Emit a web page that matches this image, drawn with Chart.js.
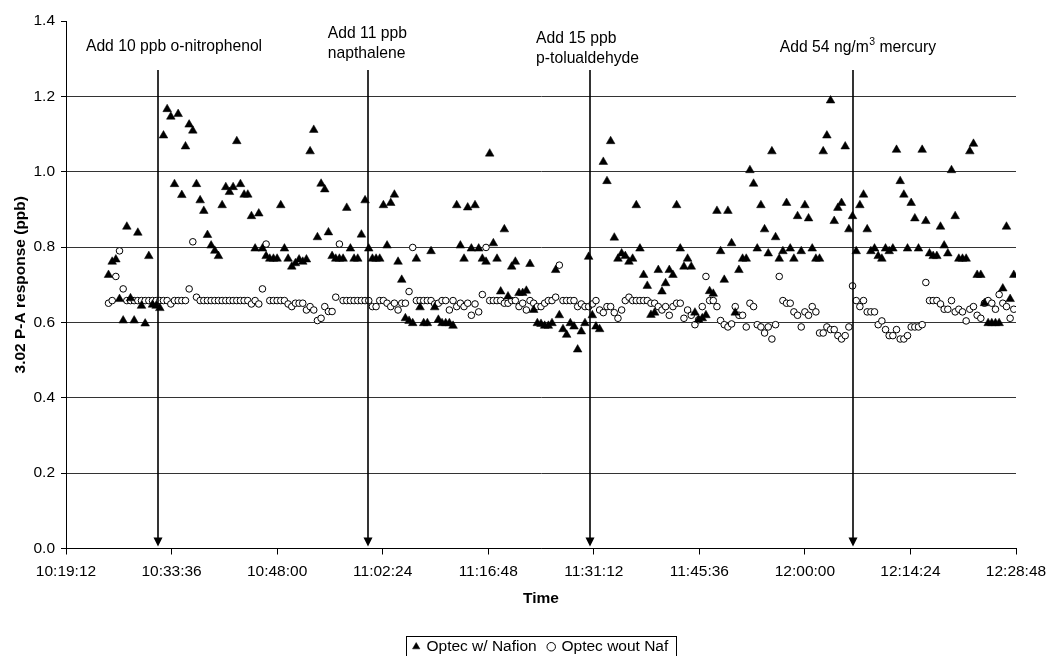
<!DOCTYPE html>
<html>
<head>
<meta charset="utf-8">
<script src="https://cdn.jsdelivr.net/npm/chart.js@4.4.1/dist/chart.umd.min.js"></script>
<style>
  html, body { margin: 0; padding: 0; background: #fff; }
</style>
</head>
<body>
<canvas id="chart" width="1047" height="656"></canvas>
<script>
// sample times (30 s logging interval)
const times = [
  '10:25:00','10:25:30','10:26:00','10:26:30','10:27:00','10:27:30','10:28:00','10:28:30','10:29:00','10:29:30',
  '10:30:00','10:30:30','10:31:00','10:31:30','10:32:00','10:32:30','10:33:00','10:33:30','10:34:00','10:34:30',
  '10:35:00','10:35:30','10:36:00','10:36:30','10:37:00','10:37:30','10:38:00','10:38:30','10:39:00','10:39:30',
  '10:40:00','10:40:30','10:41:00','10:41:30','10:42:00','10:42:30','10:43:00','10:43:30','10:44:00','10:44:30',
  '10:45:00','10:45:30','10:46:00','10:46:30','10:47:00','10:47:30','10:48:00','10:48:30','10:49:00','10:49:30',
  '10:50:00','10:50:30','10:51:00','10:51:30','10:52:00','10:52:30','10:53:00','10:53:30','10:54:00','10:54:30',
  '10:55:00','10:55:30','10:56:00','10:56:30','10:57:00','10:57:30','10:58:00','10:58:30','10:59:00','10:59:30',
  '11:00:00','11:00:30','11:01:00','11:01:30','11:02:00','11:02:30','11:03:00','11:03:30','11:04:00','11:04:30',
  '11:05:00','11:05:30','11:06:00','11:06:30','11:07:00','11:07:30','11:08:00','11:08:30','11:09:00','11:09:30',
  '11:10:00','11:10:30','11:11:00','11:11:30','11:12:00','11:12:30','11:13:00','11:13:30','11:14:00','11:14:30',
  '11:15:00','11:15:30','11:16:00','11:16:30','11:17:00','11:17:30','11:18:00','11:18:30','11:19:00','11:19:30',
  '11:20:00','11:20:30','11:21:00','11:21:30','11:22:00','11:22:30','11:23:00','11:23:30','11:24:00','11:24:30',
  '11:25:00','11:25:30','11:26:00','11:26:30','11:27:00','11:27:30','11:28:00','11:28:30','11:29:00','11:29:30',
  '11:30:00','11:30:30','11:31:00','11:31:30','11:32:00','11:32:30','11:33:00','11:33:30','11:34:00','11:34:30',
  '11:35:00','11:35:30','11:36:00','11:36:30','11:37:00','11:37:30','11:38:00','11:38:30','11:39:00','11:39:30',
  '11:40:00','11:40:30','11:41:00','11:41:30','11:42:00','11:42:30','11:43:00','11:43:30','11:44:00','11:44:30',
  '11:45:00','11:45:30','11:46:00','11:46:30','11:47:00','11:47:30','11:48:00','11:48:30','11:49:00','11:49:30',
  '11:50:00','11:50:30','11:51:00','11:51:30','11:52:00','11:52:30','11:53:00','11:53:30','11:54:00','11:54:30',
  '11:55:00','11:55:30','11:56:00','11:56:30','11:57:00','11:57:30','11:58:00','11:58:30','11:59:00','11:59:30',
  '12:00:00','12:00:30','12:01:00','12:01:30','12:02:00','12:02:30','12:03:00','12:03:30','12:04:00','12:04:30',
  '12:05:00','12:05:30','12:06:00','12:06:30','12:07:00','12:07:30','12:08:00','12:08:30','12:09:00','12:09:30',
  '12:10:00','12:10:30','12:11:00','12:11:30','12:12:00','12:12:30','12:13:00','12:13:30','12:14:00','12:14:30',
  '12:15:00','12:15:30','12:16:00','12:16:30','12:17:00','12:17:30','12:18:00','12:18:30','12:19:00','12:19:30',
  '12:20:00','12:20:30','12:21:00','12:21:30','12:22:00','12:22:30','12:23:00','12:23:30','12:24:00','12:24:30',
  '12:25:00','12:25:30','12:26:00','12:26:30','12:27:00','12:27:30','12:28:00','12:28:30'
];

// Optec w/ Nafion (ppb)
const withNafion = [
  0.726,0.761,0.767,0.662,0.605,0.854,0.664,0.605,0.838,0.644,
  0.597,0.776,0.647,0.644,0.638,1.096,1.166,1.146,0.967,1.153,
  0.938,1.067,1.125,1.109,0.967,0.924,0.896,0.832,0.804,0.790,
  0.776,0.911,0.959,0.946,0.959,1.081,0.967,0.939,0.939,0.882,
  0.796,0.889,0.796,0.776,0.769,0.769,0.769,0.911,0.796,0.769,
  0.748,0.757,0.767,0.761,0.767,1.054,1.111,0.826,0.968,0.953,
  0.839,0.776,0.769,0.769,0.769,0.904,0.796,0.769,0.769,0.833,
  0.924,0.796,0.769,0.769,0.769,0.911,0.804,0.917,0.939,0.761,
  0.713,0.611,0.604,0.598,0.769,0.640,0.598,0.598,0.789,0.640,
  0.607,0.598,0.598,0.598,0.591,0.911,0.804,0.769,0.905,0.796,
  0.911,0.796,0.769,0.761,1.048,0.810,0.769,0.682,0.847,0.669,
  0.748,0.761,0.678,0.678,0.684,0.755,0.633,0.598,0.596,0.591,
  0.591,0.598,0.739,0.619,0.582,0.567,0.598,0.589,0.528,0.576,
  0.598,0.774,0.619,0.589,0.582,1.026,0.975,1.081,0.825,0.769,
  0.783,0.776,0.761,0.769,0.911,0.796,0.726,0.697,0.620,0.626,
  0.739,0.682,0.704,0.739,0.726,0.911,0.796,0.748,0.769,0.748,
  0.626,0.607,0.611,0.619,0.683,0.676,0.896,0.789,0.713,0.896,
  0.810,0.626,0.739,0.769,0.769,1.004,0.968,0.796,0.911,0.847,
  0.783,1.054,0.826,0.769,0.789,0.917,0.796,0.769,0.882,0.789,
  0.911,0.876,0.796,0.769,0.769,1.054,1.096,1.189,0.869,0.904,
  0.917,1.067,0.847,0.882,0.789,0.911,0.939,0.847,0.789,0.796,
  0.776,0.769,0.796,0.789,0.796,1.058,0.975,0.939,0.796,0.917,
  0.876,0.796,1.058,0.869,0.783,0.776,0.776,0.854,0.804,0.783,
  1.004,0.882,0.769,0.769,0.769,1.054,1.074,0.726,0.726,0.651,
  0.598,0.598,0.598,0.598,0.690,0.854,0.662,0.726
];

// Optec wout Naf (ppb)
const withoutNafion = [
  0.651,0.658,0.722,0.790,0.689,0.658,0.658,0.658,0.658,0.658,
  0.658,0.658,0.658,0.658,0.658,0.658,0.658,0.649,0.658,0.658,
  0.658,0.658,0.689,0.814,0.667,0.658,0.658,0.658,0.658,0.658,
  0.658,0.658,0.658,0.658,0.658,0.658,0.658,0.658,0.658,0.649,
  0.658,0.649,0.689,0.808,0.658,0.658,0.658,0.658,0.658,0.649,
  0.642,0.651,0.651,0.651,0.633,0.642,0.633,0.605,0.611,0.642,
  0.629,0.629,0.667,0.808,0.658,0.658,0.658,0.658,0.658,0.658,
  0.658,0.658,0.642,0.642,0.658,0.658,0.651,0.642,0.651,0.633,
  0.651,0.651,0.682,0.799,0.658,0.658,0.658,0.658,0.658,0.649,
  0.651,0.658,0.658,0.633,0.658,0.642,0.651,0.642,0.651,0.619,
  0.649,0.628,0.674,0.799,0.658,0.658,0.658,0.658,0.651,0.651,
  0.658,0.658,0.642,0.651,0.633,0.658,0.651,0.642,0.642,0.651,
  0.658,0.658,0.667,0.752,0.658,0.658,0.658,0.658,0.642,0.649,
  0.642,0.642,0.649,0.658,0.633,0.626,0.642,0.642,0.626,0.611,
  0.633,0.658,0.667,0.658,0.658,0.658,0.658,0.658,0.651,0.651,
  0.642,0.633,0.642,0.619,0.642,0.651,0.651,0.611,0.633,0.619,
  0.594,0.607,0.642,0.722,0.658,0.658,0.642,0.605,0.594,0.588,
  0.596,0.642,0.619,0.619,0.588,0.651,0.642,0.594,0.588,0.572,
  0.588,0.556,0.594,0.722,0.658,0.651,0.651,0.628,0.619,0.588,
  0.628,0.619,0.642,0.628,0.572,0.572,0.588,0.581,0.581,0.565,
  0.556,0.565,0.588,0.697,0.658,0.642,0.658,0.628,0.628,0.628,
  0.594,0.604,0.581,0.565,0.565,0.581,0.556,0.556,0.565,0.588,
  0.588,0.588,0.594,0.706,0.658,0.658,0.658,0.649,0.635,0.635,
  0.658,0.628,0.635,0.628,0.604,0.635,0.642,0.619,0.611,0.651,
  0.658,0.651,0.635,0.674,0.651,0.642,0.611,0.635
];

const xTickLabels = ['10:19:12','10:33:36','10:48:00','11:02:24','11:16:48','11:31:12','11:45:36','12:00:00','12:14:24','12:28:48'];
const yTickValues = [0, 0.2, 0.4, 0.6, 0.8, 1.0, 1.2, 1.4];

// additions marked with arrows
const arrowTimes = ['10:31:45', '11:00:25', '11:30:40', '12:06:35'];
const arrowTop = 1.27;
const noteTimes = ['10:21:55', '10:54:55', '11:23:20', '11:56:35'];
const noteValues = [1.331, 1.366, 1.352, 1.329];
const noteLines = [
  ['Add 10 ppb o-nitrophenol'],
  ['Add 11 ppb', 'napthalene'],
  ['Add 15 ppb', 'p-tolualdehyde'],
  ['Add 54 ng/m³ mercury']
];

const FONT = "'Liberation Sans', Arial, Helvetica, sans-serif";

function toSec(t) {
  const p = t.split(':').map(Number);
  return p[0] * 3600 + p[1] * 60 + p[2];
}
function fmtTime(s) {
  const h = Math.floor(s / 3600), m = Math.floor((s % 3600) / 60), sec = Math.round(s % 60);
  return h + ':' + String(m).padStart(2, '0') + ':' + String(sec).padStart(2, '0');
}

function drawNote(ctx, text, x, y) {
  const parts = text.split('³');
  let cx = x;
  parts.forEach((part, i) => {
    ctx.font = '15.7px ' + FONT;
    ctx.fillText(part, cx, y);
    cx += ctx.measureText(part).width;
    if (i < parts.length - 1) {
      ctx.font = '10.5px ' + FONT;
      ctx.fillText('3', cx + 0.5, y - 6);
      cx += ctx.measureText('3').width + 0.5;
    }
  });
}

const markers = {
  id: 'markers',
  afterLayout(chart) {
    // centre legend under the plot area like the original
    const lg = chart.legend;
    const shift = (chart.chartArea.left + chart.chartArea.right) / 2 - (lg.left + lg.right) / 2;
    lg.left += shift;
    lg.right += shift;
  },
  afterDatasetsDraw(chart) {
    const { ctx, scales: { x, y } } = chart;
    ctx.save();
    ctx.strokeStyle = '#000';
    ctx.fillStyle = '#000';
    ctx.lineWidth = 1.6;
    arrowTimes.forEach(t => {
      const px = Math.round(x.getPixelForValue(toSec(t)));
      const top = y.getPixelForValue(arrowTop);
      const tip = y.getPixelForValue(0) - 2;
      ctx.beginPath();
      ctx.moveTo(px, top);
      ctx.lineTo(px, tip - 8);
      ctx.stroke();
      ctx.beginPath();
      ctx.moveTo(px - 4.5, tip - 9);
      ctx.lineTo(px + 4.5, tip - 9);
      ctx.lineTo(px, tip);
      ctx.closePath();
      ctx.fill();
    });
    ctx.textAlign = 'left';
    ctx.textBaseline = 'middle';
    noteLines.forEach((lines, i) => {
      const px = x.getPixelForValue(toSec(noteTimes[i]));
      const py = y.getPixelForValue(noteValues[i]);
      lines.forEach((line, j) => drawNote(ctx, line, px, py + j * 19.5));
    });
    ctx.restore();
  },
  afterDraw(chart) {
    // box round the legend
    const lg = chart.legend;
    const p = lg.options.labels.padding;
    const lw = lg.lineWidths[0];
    const x0 = (lg.left + p + lg.right - lw) / 2;
    const x1 = x0 + lw - p;
    const cy = lg.top + p + 7.75;
    const ctx = chart.ctx;
    ctx.save();
    ctx.strokeStyle = '#000';
    ctx.lineWidth = 1;
    ctx.strokeRect(Math.round(x0 - 8) + 0.5, Math.round(cy - 11) + 0.5, Math.round(x1 - x0 + 15), 24);
    ctx.restore();
  }
};

Chart.defaults.font.family = FONT;
Chart.defaults.font.size = 15.5;
Chart.defaults.color = '#000';

new Chart(document.getElementById('chart'), {
  type: 'scatter',
  data: {
    datasets: [
      {
        label: 'Optec w/ Nafion',
        data: times.map((t, i) => ({ x: toSec(t), y: withNafion[i] })),
        pointStyle: 'triangle',
        pointRadius: 5,
        backgroundColor: '#000',
        borderColor: '#000',
        borderWidth: 0.5
      },
      {
        label: 'Optec wout Naf',
        data: times.map((t, i) => ({ x: toSec(t), y: withoutNafion[i] })),
        pointStyle: 'circle',
        pointRadius: 3.3,
        backgroundColor: '#fff',
        borderColor: '#000',
        borderWidth: 1
      }
    ]
  },
  options: {
    responsive: false,
    animation: false,
    events: [],
    layout: { padding: { left: 0, right: 31, top: 21, bottom: -8.5 } },
    plugins: {
      tooltip: { enabled: false },
      legend: {
        position: 'bottom',
        labels: {
          usePointStyle: true,
          boxWidth: 5,
          boxHeight: 6,
          padding: 12,
          font: { size: 15.5 }
        }
      }
    },
    scales: {
      x: {
        type: 'linear',
        min: toSec(xTickLabels[0]),
        max: toSec(xTickLabels[xTickLabels.length - 1]),
        afterBuildTicks: s => { s.ticks = xTickLabels.map(l => ({ value: toSec(l) })); },
        afterFit: s => { s.height = 78.5; s.paddingLeft = 0; s.paddingRight = 0; },
        ticks: { callback: v => fmtTime(v), autoSkip: false, maxRotation: 0, padding: 8 },
        grid: { drawOnChartArea: false, tickLength: 6, color: '#000' },
        border: { color: '#000', width: 1 },
        title: { display: true, text: 'Time', font: { size: 15.5, weight: 'bold' }, padding: { top: 0, bottom: 18.5 } }
      },
      y: {
        min: 0,
        max: 1.4,
        afterBuildTicks: s => { s.ticks = yTickValues.map(v => ({ value: v })); },
        afterFit: s => { s.width = 66; },
        ticks: { callback: v => Number(v).toFixed(1), padding: 6 },
        grid: {
          color: c => (c.tick && c.tick.value > 1.39) ? 'rgba(0,0,0,0)' : '#333',
          tickColor: '#000',
          tickLength: 5
        },
        border: { color: '#000', width: 1 },
        title: { display: true, text: '3.02 P-A response (ppb)', font: { size: 15.5, weight: 'bold' }, padding: { top: 11, bottom: 0 } }
      }
    }
  },
  plugins: [markers]
});
</script>
</body>
</html>
